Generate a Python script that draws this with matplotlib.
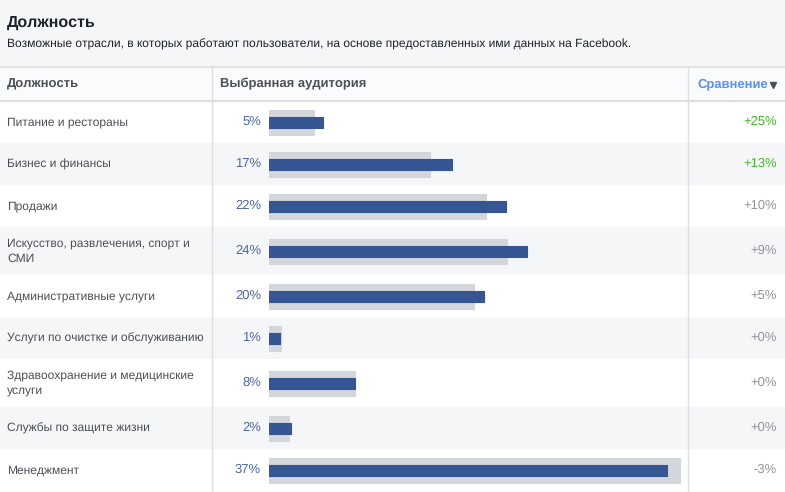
import matplotlib.pyplot as plt
from matplotlib.patches import Rectangle

plt.rcParams['font.family'] = ['Liberation Sans', 'DejaVu Sans']
plt.rcParams['text.hinting'] = 'no_hinting'
plt.rcParams['text.hinting_factor'] = 1

# data
categories = [
    'Питание и рестораны',
    'Бизнес и финансы',
    'Продажи',
    'Искусство, развлечения, спорт и\nСМИ',
    'Административные услуги',
    'Услуги по очистке и обслуживанию',
    'Здравоохранение и медицинские\nуслуги',
    'Службы по защите жизни',
    'Менеджмент',
]
audience = [5, 17, 22, 24, 20, 1, 8, 2, 37]
facebook = [4.2, 15, 20.2, 22.1, 19.1, 1.1, 8, 1.9, 38.2]
comparison = ['+25%', '+13%', '+10%', '+9%', '+5%', '+0%', '+0%', '+0%', '-3%']
highlight = [True, True, False, False, False, False, False, False, False]

W, H = 785, 492
fig = plt.figure(figsize=(W / 100, H / 100), dpi=100)
ax = fig.add_axes([0, 0, 1, 1])
ax.set_xlim(0, W)
ax.set_ylim(H, 0)
ax.axis('off')

line_col = '#dddfe2'
text_col = '#4b4f56'

# header block
ax.add_patch(Rectangle((0, 0), W, 67, color='#f5f6f7', lw=0))
ax.text(7, 23, 'Должность', fontsize=11.5, fontweight='bold', color='#1d2129', va='center')
ax.text(7, 44, 'Возможные отрасли, в которых работают пользователи, на основе предоставленных ими данных на Facebook.',
        fontsize=8.95, color='#1d2129', va='center')

# column header row
ax.add_patch(Rectangle((0, 67), W, 34, color='#fafbfc', lw=0))
ax.plot([0, W], [67, 67], color=line_col, lw=1.2)
ax.plot([0, W], [101, 101], color=line_col, lw=1.5)
ax.text(7, 84, 'Должность', fontsize=9.5, fontweight='bold', color=text_col, va='center')
ax.text(220, 84, 'Выбранная аудитория', fontsize=9.5, fontweight='bold', color=text_col, va='center')
ax.text(697, 84, 'Сравнение', fontsize=9.5, fontweight='bold', color='#5890ff', va='center')
ax.plot([773], [85], marker='v', color='#4b4f56', markersize=4.5)

# row layout
top = 101
centers = []
for i, cat in enumerate(categories):
    h = 48 if '\n' in cat else 42
    if i % 2 == 1:
        ax.add_patch(Rectangle((0, top), W, h, color='#f5f6f7', lw=0))
    c = top + h / 2
    centers.append(c)
    ax.text(7, c, cat, fontsize=8.6, color=text_col, va='center', linespacing=1.4)
    ax.text(261, c, f'{audience[i]}%', fontsize=9, color='#4b67a8', va='center', ha='right')
    ax.text(777, c, comparison[i], fontsize=9, va='center', ha='right',
            color='#42b72a' if highlight[i] else '#90949c')
    top += h

ax.plot([212, 212], [67, H], color=line_col, lw=1)
ax.plot([688, 688], [67, H], color=line_col, lw=1)

# bars
x0, x1 = 269, 688
px_per_pct = 10.75
bx = fig.add_axes([x0 / W, 0, (x1 - x0) / W, 1])
bx.set_xlim(0, (x1 - x0) / px_per_pct)
bx.set_ylim(H, 0)
bx.axis('off')
bx.barh(centers, facebook, height=25, color='#d3d6db', edgecolor='#d3d6db', lw=0.8, joinstyle='round')
bx.barh(centers, audience, height=11, color='#365693', edgecolor='#365693', lw=0.8, joinstyle='round')

fig.savefig('out.png', dpi=100)
